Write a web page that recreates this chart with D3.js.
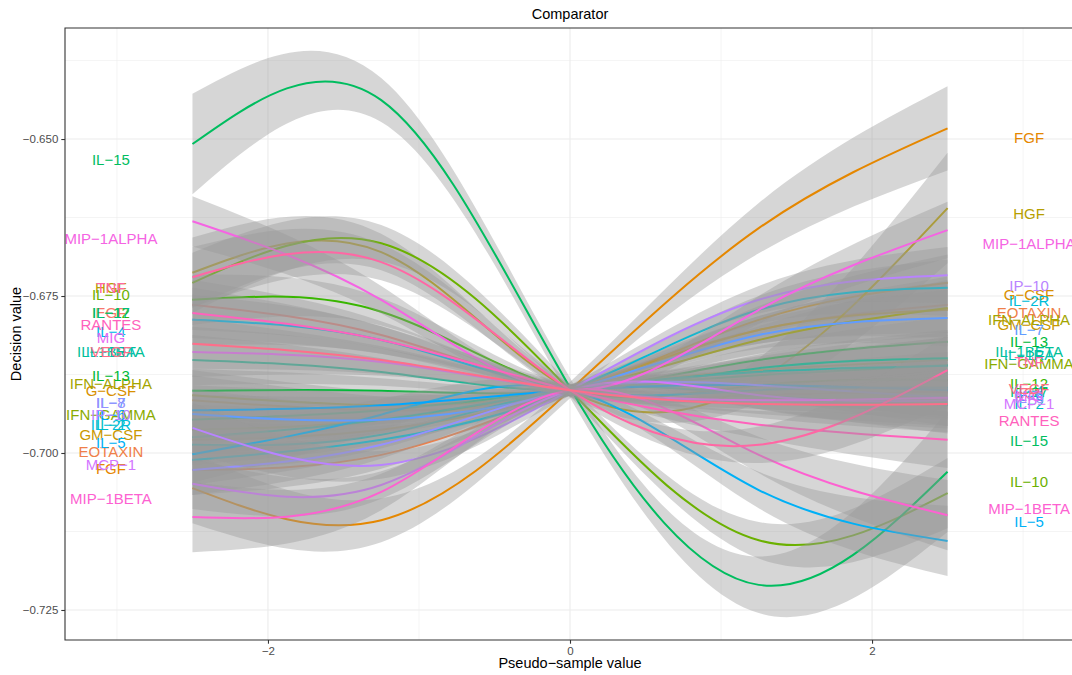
<!DOCTYPE html>
<html>
<head>
<meta charset="utf-8">
<script src="https://cdn.jsdelivr.net/npm/d3@7"></script>
<style>
  body { margin: 0; background: #fff; }
  text { font-family: "Liberation Sans", Arial, Helvetica, sans-serif; }
</style>
</head>
<body>
<svg id="chart" width="1072" height="675"></svg>
<script>
// cytokine groups, in factor (alphabetical) order
const cytokines = [
  'EGF', 'EOTAXIN', 'FGF', 'G-CSF', 'GM-CSF', 'HGF', 'IFN-ALPHA', 'IFN-GAMMA',
  'IL-10', 'IL-12', 'IL-13', 'IL-15', 'IL-17', 'IL-1BETA', 'IL-1RA', 'IL-2',
  'IL-2R', 'IL-4', 'IL-5', 'IL-6', 'IL-7', 'IL-8', 'IP-10', 'MCP-1', 'MIG',
  'MIP-1ALPHA', 'MIP-1BETA', 'RANTES', 'TNF', 'VEGF'
];

const knots = [-2.5, -1.25, 0, 1.25, 2.5];

// fitted decision value at each knot (one row per cytokine)
const fitValues = [
  [-0.6764, -0.6812, -0.6900, -0.6908, -0.6903], // EGF
  [-0.7027, -0.7003, -0.6900, -0.6804, -0.6764], // EOTAXIN
  [-0.7056, -0.7107, -0.6900, -0.6642, -0.6483], // FGF
  [-0.6916, -0.6932, -0.6900, -0.6788, -0.6729], // G-CSF
  [-0.6979, -0.6963, -0.6900, -0.6804, -0.6772], // GM-CSF
  [-0.6713, -0.6680, -0.6900, -0.6884, -0.6610], // HGF
  [-0.6908, -0.6924, -0.6900, -0.6820, -0.6769], // IFN-ALPHA
  [-0.6963, -0.6947, -0.6900, -0.6868, -0.6852], // IFN-GAMMA
  [-0.6729, -0.6666, -0.6900, -0.7139, -0.7064], // IL-10
  [-0.6756, -0.6775, -0.6900, -0.6892, -0.6884], // IL-12
  [-0.6901, -0.6901, -0.6900, -0.6852, -0.6823], // IL-13
  [-0.6508, -0.6438, -0.6896, -0.7210, -0.7030], // IL-15
  [-0.6947, -0.6932, -0.6900, -0.6876, -0.6860], // IL-17
  [-0.6852, -0.6871, -0.6900, -0.6865, -0.6849], // IL-1BETA
  [-0.6975, -0.6947, -0.6900, -0.6871, -0.6861], // IL-1RA
  [-0.6987, -0.6971, -0.6900, -0.6908, -0.6924], // IL-2
  [-0.7011, -0.6979, -0.6900, -0.6772, -0.6737], // IL-2R
  [-0.6788, -0.6820, -0.6900, -0.6900, -0.6896], // IL-4
  [-0.7002, -0.6939, -0.6900, -0.7059, -0.7140], // IL-5
  [-0.6932, -0.6924, -0.6900, -0.6892, -0.6900], // IL-6
  [-0.6938, -0.6947, -0.6900, -0.6812, -0.6785], // IL-7
  [-0.7027, -0.6987, -0.6900, -0.6892, -0.6912], // IL-8
  [-0.6960, -0.7019, -0.6900, -0.6756, -0.6717], // IP-10
  [-0.7049, -0.7051, -0.6900, -0.6908, -0.6916], // MCP-1
  [-0.6839, -0.6855, -0.6900, -0.6916, -0.6912], // MIG
  [-0.6631, -0.6756, -0.6900, -0.6772, -0.6645], // MIP-1ALPHA
  [-0.7102, -0.7062, -0.6900, -0.7003, -0.7099], // MIP-1BETA
  [-0.6777, -0.6820, -0.6900, -0.6955, -0.6979], // RANTES
  [-0.6720, -0.6696, -0.6900, -0.6987, -0.6868], // TNF
  [-0.6826, -0.6852, -0.6900, -0.6922, -0.6922]  // VEGF
];

// half width of the confidence band at each knot
const fitSE = [
  [0.0040, 0.0022, 0.0008, 0.0022, 0.0045],
  [0.0040, 0.0022, 0.0008, 0.0022, 0.0045],
  [0.0056, 0.0035, 0.0013, 0.0040, 0.0067],
  [0.0040, 0.0022, 0.0008, 0.0022, 0.0045],
  [0.0040, 0.0022, 0.0008, 0.0022, 0.0045],
  [0.0056, 0.0029, 0.0010, 0.0035, 0.0088],
  [0.0040, 0.0022, 0.0008, 0.0022, 0.0045],
  [0.0040, 0.0022, 0.0008, 0.0022, 0.0045],
  [0.0048, 0.0029, 0.0010, 0.0029, 0.0056],
  [0.0040, 0.0022, 0.0008, 0.0022, 0.0045],
  [0.0035, 0.0020, 0.0008, 0.0022, 0.0040],
  [0.0080, 0.0035, 0.0016, 0.0045, 0.0096],
  [0.0040, 0.0022, 0.0008, 0.0022, 0.0045],
  [0.0040, 0.0022, 0.0008, 0.0022, 0.0045],
  [0.0040, 0.0022, 0.0008, 0.0022, 0.0045],
  [0.0040, 0.0022, 0.0008, 0.0022, 0.0045],
  [0.0040, 0.0022, 0.0008, 0.0022, 0.0045],
  [0.0040, 0.0022, 0.0008, 0.0022, 0.0045],
  [0.0045, 0.0025, 0.0010, 0.0029, 0.0056],
  [0.0040, 0.0022, 0.0008, 0.0022, 0.0045],
  [0.0040, 0.0022, 0.0008, 0.0022, 0.0045],
  [0.0040, 0.0022, 0.0008, 0.0022, 0.0045],
  [0.0040, 0.0022, 0.0008, 0.0022, 0.0045],
  [0.0040, 0.0022, 0.0008, 0.0022, 0.0045],
  [0.0040, 0.0022, 0.0008, 0.0022, 0.0045],
  [0.0040, 0.0022, 0.0008, 0.0022, 0.0045],
  [0.0056, 0.0029, 0.0010, 0.0029, 0.0056],
  [0.0040, 0.0022, 0.0008, 0.0022, 0.0045],
  [0.0048, 0.0029, 0.0010, 0.0029, 0.0056],
  [0.0040, 0.0022, 0.0008, 0.0022, 0.0045]
];

// label positions at both ends
const labelX = [-3.04, 3.04];
const labelLeftY = [
  -0.6777, -0.6998, -0.7025, -0.6901, -0.6970, -0.6737, -0.6889, -0.6939,
  -0.6748, -0.6777, -0.6876, -0.6533, -0.6777, -0.6839, -0.6839, -0.6955,
  -0.6955, -0.6806, -0.6984, -0.6939, -0.6919, -0.6919, -0.6939, -0.7018,
  -0.6817, -0.6658, -0.7072, -0.6795, -0.6737, -0.6839
];
const labelRightY = [
  -0.6904, -0.6777, -0.6498, -0.6747, -0.6796, -0.6618, -0.6788, -0.6858,
  -0.7045, -0.6890, -0.6823, -0.6981, -0.6903, -0.6838, -0.6844, -0.6922,
  -0.6757, -0.6900, -0.7110, -0.6908, -0.6804, -0.6912, -0.6734, -0.6922,
  -0.6908, -0.6667, -0.7089, -0.6949, -0.6854, -0.6898
];

const xTicks = [-2, 0, 2];
const xMinor = [-3, -1, 1, 3];
const yTicks = [-0.650, -0.675, -0.700, -0.725];
const yMinor = [-0.6375, -0.6625, -0.6875, -0.7125];

// ggplot default hue palette (polar LUV, c = 100, l = 65)
function hueColor (h) {
  const l = 65, c = 100, hr = h * Math.PI / 180;
  const u = c * Math.cos(hr), v = c * Math.sin(hr);
  const Xn = 95.047, Yn = 100, Zn = 108.883;
  const den = Xn + 15 * Yn + 3 * Zn;
  const un = 4 * Xn / den, vn = 9 * Yn / den;
  const Y = Yn * Math.pow((l + 16) / 116, 3);
  const up = u / (13 * l) + un, vp = v / (13 * l) + vn;
  const X = 9 * Y * up / (4 * vp);
  const Z = Y * (12 - 3 * up - 20 * vp) / (4 * vp);
  const lin = [
    3.240479 * X - 1.537150 * Y - 0.498535 * Z,
    -0.969256 * X + 1.875992 * Y + 0.041556 * Z,
    0.055648 * X - 0.204043 * Y + 1.057311 * Z
  ].map(t => t / 100);
  const rgb = lin.map(t => {
    let g = t <= 0.0031308 ? 12.92 * t : 1.055 * Math.pow(t, 1 / 2.4) - 0.055;
    return Math.round(255 * Math.max(0, Math.min(1, g)));
  });
  return d3.rgb(rgb[0], rgb[1], rgb[2]).formatHex();
}
const colors = cytokines.map((d, i) => hueColor(15 + i * 360 / cytokines.length));

// panel
const panel = {left: 65, right: 1075, top: 28, bottom: 640};
const x = d3.scaleLinear().domain([-3.344, 3.344]).range([panel.left, panel.right]);
const y = d3.scaleLinear().domain([-0.72978, -0.63232]).range([panel.bottom, panel.top]);

const svg = d3.select('#chart');

svg.append('defs').append('clipPath').attr('id', 'clip')
  .append('rect')
  .attr('x', panel.left).attr('y', panel.top)
  .attr('width', panel.right - panel.left).attr('height', panel.bottom - panel.top);

// grid
const grid = svg.append('g');
grid.selectAll('.vminor').data(xMinor).enter().append('line')
  .attr('x1', d => x(d)).attr('x2', d => x(d))
  .attr('y1', panel.top).attr('y2', panel.bottom)
  .attr('stroke', '#ebebeb').attr('stroke-width', 0.55);
grid.selectAll('.hminor').data(yMinor).enter().append('line')
  .attr('y1', d => y(d)).attr('y2', d => y(d))
  .attr('x1', panel.left).attr('x2', panel.right)
  .attr('stroke', '#ebebeb').attr('stroke-width', 0.55);
grid.selectAll('.vmajor').data(xTicks).enter().append('line')
  .attr('x1', d => x(d)).attr('x2', d => x(d))
  .attr('y1', panel.top).attr('y2', panel.bottom)
  .attr('stroke', '#ebebeb').attr('stroke-width', 1.1);
grid.selectAll('.hmajor').data(yTicks).enter().append('line')
  .attr('y1', d => y(d)).attr('y2', d => y(d))
  .attr('x1', panel.left).attr('x2', panel.right)
  .attr('stroke', '#ebebeb').attr('stroke-width', 1.1);

// smooths: ribbon then line for each group
const plot = svg.append('g').attr('clip-path', 'url(#clip)');

const band = d3.area()
  .x(d => x(d.k))
  .y0(d => y(d.v - d.se))
  .y1(d => y(d.v + d.se))
  .curve(d3.curveNatural);

const line = d3.line()
  .x(d => x(d.k))
  .y(d => y(d.v))
  .curve(d3.curveNatural);

cytokines.forEach((name, i) => {
  let pts = knots.map((k, j) => ({k: k, v: fitValues[i][j], se: fitSE[i][j]}));
  plot.append('path')
    .attr('d', band(pts))
    .attr('fill', '#999999')
    .attr('fill-opacity', 0.4);
  plot.append('path')
    .attr('d', line(pts))
    .attr('fill', 'none')
    .attr('stroke', colors[i])
    .attr('stroke-width', 2);
});

// labels at both ends
const labels = svg.append('g').attr('clip-path', 'url(#clip)');
[labelLeftY, labelRightY].forEach((ys, side) => {
  labels.selectAll('.lab' + side).data(cytokines).enter().append('text')
    .attr('x', x(labelX[side]))
    .attr('y', (d, i) => y(ys[i]))
    .attr('dy', '0.36em')
    .attr('text-anchor', 'middle')
    .attr('font-size', '15px')
    .attr('fill', (d, i) => colors[i])
    .text(d => d.replace(/-/g, '\u2212'));
});

// panel border
svg.append('path')
  .attr('d', `M${panel.right},${panel.top}H${panel.left}V${panel.bottom}H${panel.right}`)
  .attr('fill', 'none')
  .attr('stroke', '#333333')
  .attr('stroke-width', 1.1);

// axes
const yAxis = svg.append('g')
  .attr('transform', `translate(${panel.left},0)`)
  .call(d3.axisLeft(y).tickValues(yTicks).tickFormat(d3.format('.3f')).tickSize(3.7).tickPadding(3));
const xAxis = svg.append('g')
  .attr('transform', `translate(0,${panel.bottom})`)
  .call(d3.axisBottom(x).tickValues(xTicks).tickFormat(d3.format('d')).tickSize(3.7).tickPadding(3));
[yAxis, xAxis].forEach(a => {
  a.select('.domain').remove();
  a.selectAll('.tick line').attr('stroke', '#333333').attr('stroke-width', 1.1);
  a.selectAll('.tick text')
    .attr('fill', '#4d4d4d')
    .attr('font-size', '11.5px')
    .attr('font-family', '"Liberation Sans", Arial, sans-serif');
});

// titles
svg.append('text')
  .attr('x', (panel.left + panel.right) / 2)
  .attr('y', 19)
  .attr('text-anchor', 'middle')
  .attr('font-size', '14.5px')
  .text('Comparator');

svg.append('text')
  .attr('x', (panel.left + panel.right) / 2)
  .attr('y', 668)
  .attr('text-anchor', 'middle')
  .attr('font-size', '14.5px')
  .text('Pseudo\u2212sample value');

svg.append('text')
  .attr('transform', `translate(21,${(panel.top + panel.bottom) / 2}) rotate(-90)`)
  .attr('text-anchor', 'middle')
  .attr('font-size', '14.5px')
  .text('Decision value');
</script>
</body>
</html>
